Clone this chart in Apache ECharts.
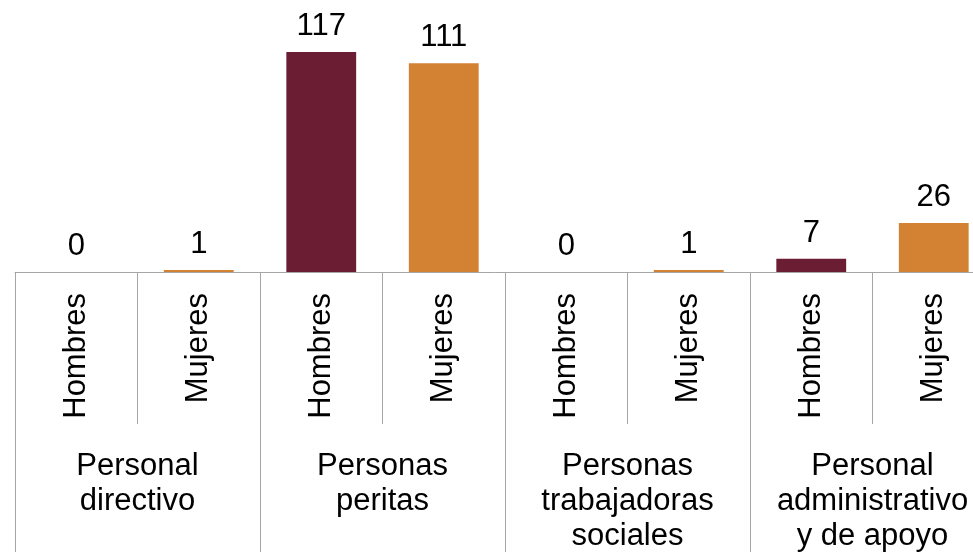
<!DOCTYPE html>
<html>
<head>
<meta charset="utf-8">
<script src="https://cdn.jsdelivr.net/npm/echarts@6/dist/echarts.min.js"></script>
<style>html,body{margin:0;padding:0;background:#fff}#c{width:973px;height:552px}</style>
</head>
<body>
<div id="c"></div>
<script>
var groups = ['Personal\ndirectivo', 'Personas\nperitas', 'Personas\ntrabajadoras\nsociales', 'Personal\nadministrativo\ny de apoyo'];
var sexes = ['Hombres', 'Mujeres'];
var hombres = [0, 117, 0, 7];
var mujeres = [1, 111, 1, 26];
var colors = ['#6B1D33', '#D38132'];

var subCats = [], values = [];
for (var i = 0; i < groups.length; i++) {
  subCats.push(sexes[0]); values.push(hombres[i]);
  subCats.push(sexes[1]); values.push(mujeres[i]);
}
var FONT = 'Liberation Sans, Arial, sans-serif';
var chart = echarts.init(document.getElementById('c'));
chart.setOption({
  animation: false,
  grid: { left: 15, right: -22, top: 52, bottom: 280, outerBoundsMode: 'none', containLabel: false },
  xAxis: [{
    type: 'category',
    data: subCats,
    axisLine: { lineStyle: { color: '#a6a6a6', width: 1 } },
    axisTick: { show: true, interval: 0, length: 152, lineStyle: { color: '#a6a6a6' } },
    axisLabel: { interval: 0, rotate: 90, margin: 21, fontSize: 31, color: '#000', fontFamily: FONT }
  }, {
    type: 'category',
    data: groups,
    position: 'bottom',
    axisLine: { show: false },
    axisTick: { show: true, interval: 0, length: 280, lineStyle: { color: '#a6a6a6' } },
    axisLabel: { interval: 0, margin: 177, fontSize: 31, lineHeight: 35, color: '#000', fontFamily: FONT }
  }],
  yAxis: { type: 'value', min: 0, max: 117, show: false },
  series: [{
    type: 'bar',
    xAxisIndex: 0,
    data: values,
    barWidth: '57%',
    itemStyle: { color: function (p) { return colors[p.dataIndex % 2]; } },
    label: { show: true, position: 'top', distance: 10, fontSize: 31, color: '#000', fontFamily: FONT }
  }]
});
</script>
</body>
</html>
